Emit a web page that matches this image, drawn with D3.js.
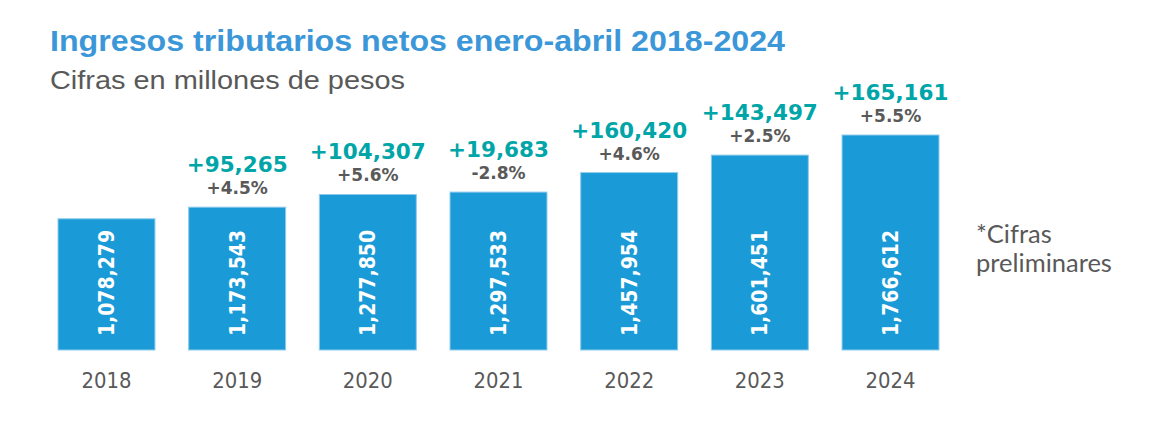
<!DOCTYPE html>
<html>
<head>
<meta charset="utf-8">
<script src="https://cdn.jsdelivr.net/npm/d3@7"></script>
<style>
  body { margin: 0; background: #fff; }
  svg { display: block; }
</style>
</head>
<body>
<div id="chart"></div>
<script>
// data
const years = ["2018", "2019", "2020", "2021", "2022", "2023", "2024"]
const ingresos = [1078279, 1173543, 1277850, 1297533, 1457954, 1601451, 1766612]
const diferencias = [null, 95265, 104307, 19683, 160420, 143497, 165161]
const crecimiento = ["", "+4.5%", "+5.6%", "-2.8%", "+4.6%", "+2.5%", "+5.5%"]

const width = 1158
const height = 423
const margin = { top: 135, bottom: 73, left: 58, right: 219 }

const svg = d3.select("#chart")
    .append("svg")
    .attr("width", width)
    .attr("height", height)

//titles
svg.append("text")
    .attr("x", 50)
    .attr("y", 51)
    .attr("textLength", 735)
    .attr("lengthAdjust", "spacingAndGlyphs")
    .style("font-family", "'Liberation Sans', Arial, sans-serif")
    .style("font-weight", "bold")
    .style("font-size", "29px")
    .style("fill", "#3b97d8")
    .text("Ingresos tributarios netos enero-abril 2018-2024")

svg.append("text")
    .attr("x", 50)
    .attr("y", 89)
    .attr("textLength", 355)
    .attr("lengthAdjust", "spacingAndGlyphs")
    .style("font-family", "'Liberation Sans', Arial, sans-serif")
    .style("font-size", "26.5px")
    .style("fill", "#595959")
    .text("Cifras en millones de pesos")

//scales
const x = d3.scaleBand()
    .domain(years)
    .range([margin.left, width - margin.right])
    .paddingInner(0.258)

const y = d3.scaleLinear()
    .domain([0, d3.max(ingresos)])
    .range([height - margin.bottom, margin.top])

const rows = years.map((yr, i) => ({
    year: yr, value: ingresos[i], diff: diferencias[i], pct: crecimiento[i]
}))

const fmt = d3.format(",")

//bars
svg.append("g")
    .selectAll("rect")
    .data(rows)
    .join("rect")
    .attr("x", d => x(d.year))
    .attr("y", d => y(d.value))
    .attr("width", x.bandwidth())
    .attr("height", d => y(0) - y(d.value))
    .attr("fill", "#1a9bd7")
    .attr("stroke", "#8fcbea")
    .attr("stroke-width", 1)

//value inside bars, rotated
svg.append("g")
    .selectAll("text")
    .data(rows)
    .join("text")
    .attr("transform", d => `translate(${x(d.year) + x.bandwidth() / 2},${y(0) - 14}) rotate(-90)`)
    .attr("dy", "0.36em")
    .attr("textLength", 106)
    .attr("lengthAdjust", "spacingAndGlyphs")
    .style("font-family", "'DejaVu Sans', Verdana, sans-serif")
    .style("font-weight", "bold")
    .style("font-size", "21px")
    .style("fill", "#fff")
    .text(d => fmt(d.value))

//differences above bars
svg.append("g")
    .selectAll("text")
    .data(rows.filter(d => d.diff !== null))
    .join("text")
    .attr("x", d => x(d.year) + x.bandwidth() / 2)
    .attr("y", d => y(d.value) - 35)
    .attr("text-anchor", "middle")
    .style("font-family", "'DejaVu Sans', Verdana, sans-serif")
    .style("font-weight", "bold")
    .style("font-size", "21.5px")
    .style("fill", "#00a5a8")
    .text(d => "+" + fmt(d.diff))

//growth pct
svg.append("g")
    .selectAll("text")
    .data(rows.filter(d => d.pct !== ""))
    .join("text")
    .attr("x", d => x(d.year) + x.bandwidth() / 2)
    .attr("y", d => y(d.value) - 13)
    .attr("text-anchor", "middle")
    .style("font-family", "'DejaVu Sans', Verdana, sans-serif")
    .style("font-weight", "bold")
    .style("font-size", "17px")
    .style("fill", "#595959")
    .text(d => d.pct)

//x axis
const xAxis = svg.append("g")
    .attr("transform", `translate(0,${y(0)})`)
    .call(d3.axisBottom(x).tickSize(0).tickPadding(22))

xAxis.select(".domain").remove()
xAxis.selectAll("text")
    .attr("dy", "0.71em")
    .attr("textLength", 50)
    .attr("lengthAdjust", "spacingAndGlyphs")
    .style("font-family", "'DejaVu Sans', Verdana, sans-serif")
    .style("font-size", "22px")
    .style("fill", "#595959")

//note
const note = svg.append("text")
    .attr("x", 976)
    .attr("y", 243)
    .style("font-family", "Lato, sans-serif")
    .style("font-size", "25.5px")
    .style("fill", "#595959")

note.append("tspan").attr("x", 976).text("*Cifras")
note.append("tspan").attr("x", 976).attr("dy", 28.5).text("preliminares")
</script>
</body>
</html>
